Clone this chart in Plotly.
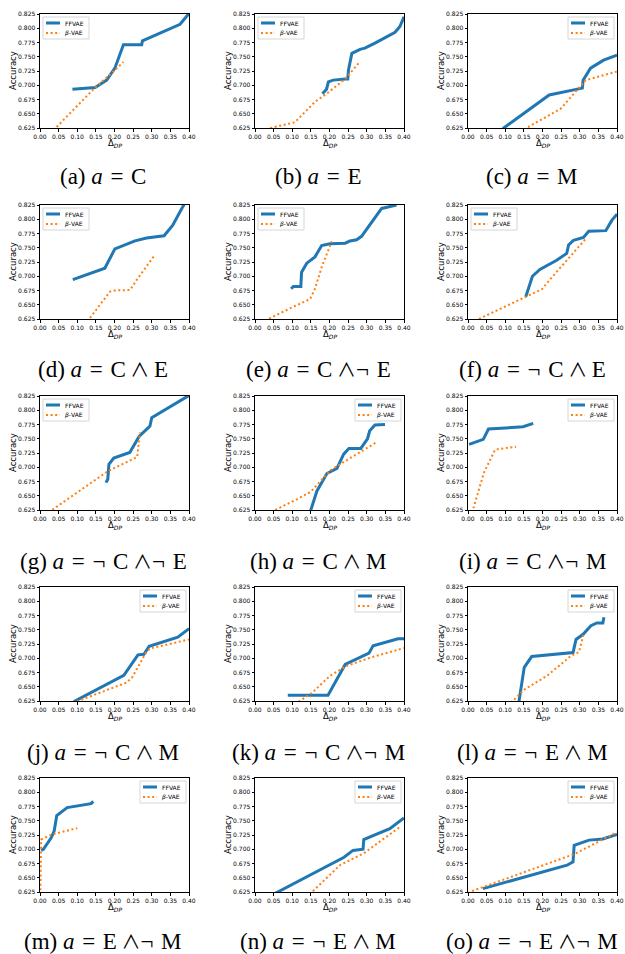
import plotly.graph_objects as go

W, H = 625, 954

# ---------------- data ----------------
ff_a_x = [0.087, 0.148, 0.179, 0.201, 0.224, 0.273, 0.275, 0.376, 0.400]
ff_a_y = [0.693, 0.696, 0.709, 0.730, 0.771, 0.771, 0.778, 0.807, 0.826]
bv_a_x = [0.036, 0.042, 0.148, 0.197, 0.224]
bv_a_y = [0.621, 0.625, 0.696, 0.724, 0.741]

ff_b_x = [0.181, 0.192, 0.197, 0.210, 0.242, 0.249, 0.251, 0.260, 0.282, 0.295, 0.322, 0.376, 0.389, 0.400]
ff_b_y = [0.685, 0.693, 0.706, 0.709, 0.711, 0.711, 0.727, 0.756, 0.763, 0.765, 0.774, 0.793, 0.803, 0.820]
bv_b_x = [0.030, 0.042, 0.107, 0.121, 0.161, 0.192, 0.242, 0.280]
bv_b_y = [0.621, 0.625, 0.635, 0.644, 0.671, 0.685, 0.711, 0.740]

ff_c_x = [0.080, 0.096, 0.218, 0.258, 0.307, 0.309, 0.329, 0.364, 0.400]
ff_c_y = [0.614, 0.625, 0.683, 0.688, 0.695, 0.709, 0.730, 0.744, 0.753]
bv_c_x = [0.140, 0.157, 0.249, 0.298, 0.316, 0.400]
bv_c_y = [0.618, 0.625, 0.659, 0.696, 0.709, 0.724]

ff_d_x = [0.088, 0.174, 0.201, 0.255, 0.286, 0.333, 0.356, 0.385, 0.390]
ff_d_y = [0.694, 0.714, 0.748, 0.762, 0.767, 0.771, 0.789, 0.825, 0.830]
bv_d_x = [0.128, 0.132, 0.188, 0.201, 0.242, 0.260, 0.309]
bv_d_y = [0.620, 0.625, 0.673, 0.675, 0.676, 0.694, 0.738]

ff_e_x = [0.097, 0.103, 0.123, 0.125, 0.139, 0.161, 0.179, 0.201, 0.242, 0.255, 0.273, 0.286, 0.340, 0.380]
ff_e_y = [0.678, 0.682, 0.682, 0.707, 0.723, 0.734, 0.754, 0.757, 0.758, 0.762, 0.764, 0.770, 0.819, 0.825]
bv_e_x = [0.028, 0.036, 0.098, 0.148, 0.161, 0.179, 0.206]
bv_e_y = [0.621, 0.625, 0.645, 0.660, 0.678, 0.716, 0.761]

ff_f_x = [0.155, 0.173, 0.193, 0.238, 0.265, 0.270, 0.283, 0.310, 0.324, 0.370, 0.386, 0.400]
ff_f_y = [0.664, 0.700, 0.712, 0.728, 0.740, 0.755, 0.763, 0.768, 0.779, 0.780, 0.798, 0.809]
bv_f_x = [0.020, 0.029, 0.155, 0.198, 0.225, 0.315]
bv_f_y = [0.620, 0.625, 0.664, 0.677, 0.698, 0.765]

ff_g_x = [0.177, 0.182, 0.185, 0.198, 0.241, 0.266, 0.295, 0.300, 0.400]
ff_g_y = [0.673, 0.679, 0.705, 0.716, 0.726, 0.754, 0.772, 0.787, 0.826]
bv_g_x = [0.024, 0.032, 0.182, 0.261, 0.268]
bv_g_y = [0.620, 0.625, 0.693, 0.718, 0.761]

ff_h_x = [0.145, 0.150, 0.166, 0.193, 0.220, 0.238, 0.252, 0.284, 0.302, 0.308, 0.322, 0.349]
ff_h_y = [0.615, 0.625, 0.658, 0.689, 0.698, 0.723, 0.733, 0.733, 0.750, 0.764, 0.774, 0.775]
bv_h_x = [0.045, 0.054, 0.113, 0.150, 0.172, 0.204, 0.220, 0.329]
bv_h_y = [0.620, 0.625, 0.644, 0.657, 0.673, 0.695, 0.702, 0.745]

ff_i_x = [0.003, 0.041, 0.055, 0.148, 0.175]
ff_i_y = [0.740, 0.749, 0.767, 0.771, 0.777]
bv_i_x = [0.012, 0.014, 0.043, 0.073, 0.129]
bv_i_y = [0.620, 0.627, 0.691, 0.731, 0.736]

ff_j_x = [0.080, 0.094, 0.225, 0.263, 0.279, 0.293, 0.370, 0.400]
ff_j_y = [0.617, 0.625, 0.670, 0.706, 0.707, 0.721, 0.737, 0.752]
bv_j_x = [0.090, 0.102, 0.231, 0.247, 0.284, 0.295, 0.400]
bv_j_y = [0.619, 0.625, 0.657, 0.666, 0.709, 0.717, 0.733]

ff_k_x = [0.088, 0.196, 0.242, 0.282, 0.306, 0.317, 0.384, 0.400]
ff_k_y = [0.635, 0.635, 0.689, 0.702, 0.709, 0.722, 0.734, 0.734]
bv_k_x = [0.110, 0.120, 0.153, 0.201, 0.244, 0.314, 0.400]
bv_k_y = [0.617, 0.625, 0.639, 0.669, 0.686, 0.702, 0.718]

ff_l_x = [0.135, 0.137, 0.151, 0.171, 0.282, 0.290, 0.309, 0.330, 0.346, 0.362, 0.365]
ff_l_y = [0.615, 0.625, 0.684, 0.703, 0.710, 0.733, 0.742, 0.757, 0.762, 0.762, 0.772]
bv_l_x = [0.105, 0.120, 0.153, 0.212, 0.276, 0.298, 0.311]
bv_l_y = [0.617, 0.625, 0.646, 0.669, 0.704, 0.711, 0.744]

ff_m_x = [0.003, 0.009, 0.030, 0.038, 0.045, 0.073, 0.137, 0.143]
ff_m_y = [0.698, 0.700, 0.720, 0.732, 0.759, 0.773, 0.780, 0.784]
bv_m_x = [0.001, 0.002, 0.003, 0.032, 0.100]
bv_m_y = [0.620, 0.700, 0.717, 0.726, 0.737]

ff_n_x = [0.050, 0.061, 0.239, 0.263, 0.290, 0.292, 0.325, 0.362, 0.400]
ff_n_y = [0.621, 0.625, 0.686, 0.698, 0.700, 0.717, 0.726, 0.736, 0.755]
bv_n_x = [0.148, 0.153, 0.228, 0.292, 0.389]
bv_n_y = [0.620, 0.625, 0.672, 0.693, 0.739]

ff_o_x = [0.040, 0.266, 0.282, 0.285, 0.325, 0.362, 0.400]
ff_o_y = [0.631, 0.672, 0.678, 0.707, 0.716, 0.718, 0.726]
bv_o_x = [0.000, 0.008, 0.287, 0.400]
bv_o_y = [0.623, 0.626, 0.692, 0.730]

x_ticks = [0.00, 0.05, 0.10, 0.15, 0.20, 0.25, 0.30, 0.35, 0.40]
y_ticks = [0.625, 0.650, 0.675, 0.700, 0.725, 0.750, 0.775, 0.800, 0.825]

series_names = ["FFVAE", "<i>β</i>-VAE"]

S = "\u2004"   # math-like spacing around "="
T = "\u2009"   # thin space around the wedge
AND = "<span style=\"font-family:'Noto Sans CJK JP';font-size:19px\">∧</span>"
A = "<i>a</i>" + S + "=" + S
captions = [
    "(a) " + A + "C",
    "(b) " + A + "E",
    "(c) " + A + "M",
    "(d) " + A + "C" + T + AND + T + "E",
    "(e) " + A + "C" + T + AND + "¬" + S + "E",
    "(f) " + A + "¬" + S + "C" + T + AND + T + "E",
    "(g) " + A + "¬" + S + "C" + T + AND + "¬" + S + "E",
    "(h) " + A + "C" + T + AND + T + "M",
    "(i) " + A + "C" + T + AND + "¬" + S + "M",
    "(j) " + A + "¬" + S + "C" + T + AND + T + "M",
    "(k) " + A + "¬" + S + "C" + T + AND + "¬" + S + "M",
    "(l) " + A + "¬" + S + "E" + T + AND + T + "M",
    "(m) " + A + "E" + T + AND + "¬" + S + "M",
    "(n) " + A + "¬" + S + "E" + T + AND + T + "M",
    "(o) " + A + "¬" + S + "E" + T + AND + "¬" + S + "M",
]
legend_side = ["left", "left", "right", "left", "left", "left", "left", "right",
               "right", "right", "right", "right", "right", "right", "right"]

panels = [
    (ff_a_x, ff_a_y, bv_a_x, bv_a_y), (ff_b_x, ff_b_y, bv_b_x, bv_b_y),
    (ff_c_x, ff_c_y, bv_c_x, bv_c_y), (ff_d_x, ff_d_y, bv_d_x, bv_d_y),
    (ff_e_x, ff_e_y, bv_e_x, bv_e_y), (ff_f_x, ff_f_y, bv_f_x, bv_f_y),
    (ff_g_x, ff_g_y, bv_g_x, bv_g_y), (ff_h_x, ff_h_y, bv_h_x, bv_h_y),
    (ff_i_x, ff_i_y, bv_i_x, bv_i_y), (ff_j_x, ff_j_y, bv_j_x, bv_j_y),
    (ff_k_x, ff_k_y, bv_k_x, bv_k_y), (ff_l_x, ff_l_y, bv_l_x, bv_l_y),
    (ff_m_x, ff_m_y, bv_m_x, bv_m_y), (ff_n_x, ff_n_y, bv_n_x, bv_n_y),
    (ff_o_x, ff_o_y, bv_o_x, bv_o_y),
]

# ---------------- layout geometry (pixels) ----------------
col_px = [(40, 189), (255, 404), (468, 617)]
row_px = [(14, 128), (205, 319), (396, 510), (587, 701), (778, 892)]
cap_cx = [103, 318, 532]
cap_cy = [176, 368, 560, 751, 940]

BLUE = "#1f77b4"
ORANGE = "#ff7f0e"
SANS = "DejaVu Sans"
SERIF = "Liberation Serif, DejaVu Serif, serif"
DOT = "2px,2.6px"

fig = go.Figure()
layout = dict(
    width=W, height=H, margin=dict(l=0, r=0, t=0, b=0),
    paper_bgcolor="white", plot_bgcolor="white", showlegend=False,
)
annotations = []
shapes = []

LEG_W, LEG_H = 46, 22

for i, (fx, fy, bx, by) in enumerate(panels):
    r, c = divmod(i, 3)
    n = i + 1
    sfx = "" if n == 1 else str(n)
    xr, yr = "x" + sfx, "y" + sfx
    x0, x1 = col_px[c]
    y0, y1 = row_px[r]
    pw, ph = x1 - x0, y1 - y0
    fig.add_trace(go.Scatter(
        x=fx, y=fy, mode="lines", name=series_names[0],
        line=dict(color=BLUE, width=3), xaxis=xr, yaxis=yr,
    ))
    fig.add_trace(go.Scatter(
        x=bx, y=by, mode="lines", name=series_names[1],
        line=dict(color=ORANGE, width=2, dash=DOT), xaxis=xr, yaxis=yr,
    ))
    common = dict(
        showline=True, mirror=True, linecolor="black", linewidth=1,
        ticks="outside", ticklen=2.5, tickwidth=0.8, tickcolor="black",
        showgrid=False, zeroline=False, automargin=False,
        tickfont=dict(family=SANS, size=6, color="black"),
    )
    layout["xaxis" + sfx] = dict(
        common, domain=[x0 / W, x1 / W], anchor=yr,
        range=[0, 0.4], tickvals=x_ticks,
        ticktext=[f"{v:.2f}" for v in x_ticks],
    )
    layout["yaxis" + sfx] = dict(
        common, domain=[1 - y1 / H, 1 - y0 / H], anchor=xr,
        range=[0.625, 0.825], tickvals=y_ticks,
        ticktext=[f"{v:.3f}" for v in y_ticks],
    )
    # axis titles
    annotations.append(dict(
        text="Δ<sub><i>DP</i></sub>", xref="paper", yref="paper",
        x=(x0 + x1) / 2 / W, y=1 - (y1 + 15) / H, xanchor="center", yanchor="middle",
        showarrow=False, font=dict(family=SANS, size=8.5, color="black"),
    ))
    annotations.append(dict(
        text="Accuracy", xref="paper", yref="paper", textangle=-90,
        x=(x0 - 27) / W, y=1 - (y0 + y1) / 2 / H, xanchor="center", yanchor="middle",
        showarrow=False, font=dict(family=SANS, size=8.5, color="black"),
    ))
    # legend box (per panel, drawn in the axis domain)
    lx0 = x0 + 3 if legend_side[i] == "left" else x1 - 3 - LEG_W
    ly0 = y0 + 3
    dxr, dyr = xr + " domain", yr + " domain"

    def fxd(px):
        return (px - x0) / pw

    def fyd(py):
        return 1 - (py - y0) / ph

    shapes.append(dict(
        type="rect", xref=dxr, yref=dyr,
        x0=fxd(lx0), x1=fxd(lx0 + LEG_W), y0=fyd(ly0), y1=fyd(ly0 + LEG_H),
        fillcolor="rgba(255,255,255,0.85)", line=dict(color="#cccccc", width=0.8),
    ))
    for k, (col, wid, dash) in enumerate([(BLUE, 3, "solid"), (ORANGE, 2, DOT)]):
        yy = ly0 + 6 + 10 * k
        shapes.append(dict(
            type="line", xref=dxr, yref=dyr,
            x0=fxd(lx0 + 3), x1=fxd(lx0 + 17), y0=fyd(yy), y1=fyd(yy),
            line=dict(color=col, width=wid, dash=dash),
        ))
        annotations.append(dict(
            text=series_names[k], xref=dxr, yref=dyr,
            x=fxd(lx0 + 20), y=fyd(yy), xanchor="left", yanchor="middle",
            showarrow=False, font=dict(family=SANS, size=6, color="black"),
        ))
    annotations.append(dict(
        text=captions[i], xref="paper", yref="paper",
        x=cap_cx[c] / W, y=1 - cap_cy[r] / H, xanchor="center", yanchor="middle",
        showarrow=False, font=dict(family=SERIF, size=23, color="black"),
    ))

layout["annotations"] = annotations
layout["shapes"] = shapes
fig.update_layout(**layout)
fig.write_html("out.html", config={"displayModeBar": False},
               post_script="document.body.style.margin='0';")
